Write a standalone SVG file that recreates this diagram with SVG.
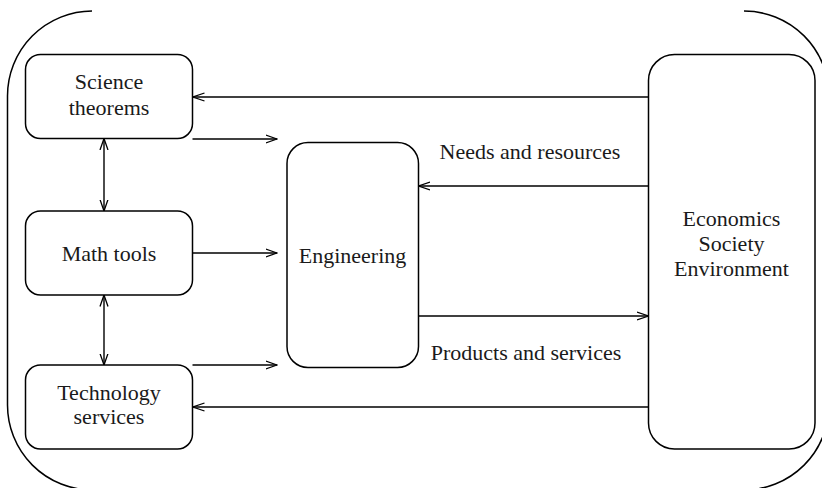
<svg xmlns="http://www.w3.org/2000/svg" width="822" height="488" viewBox="0 0 822 488">
  <defs>
    <style>
      .box { fill: #ffffff; stroke: #000000; stroke-width: 1.5; }
      .frame { fill: none; stroke: #000000; stroke-width: 1.5; }
      .link { fill: none; stroke: #000000; stroke-width: 1.4; }
      .label { font-family: "Liberation Serif", "DejaVu Serif", serif; font-size: 22px; fill: #1a1a1a; text-anchor: middle; }
    </style>
    <marker id="head" viewBox="0 0 12 10" markerWidth="12" markerHeight="10" refX="11.5" refY="5" orient="auto-start-reverse" markerUnits="userSpaceOnUse">
      <path d="M0,1 L11.5,5 L0,9" fill="none" stroke="#000000" stroke-width="1.3"/>
    </marker>
  </defs>

  <rect width="822" height="488" fill="#ffffff"/>

  <!-- outer brackets -->
  <g id="frame">
    <path class="frame" d="M92,11 A85,85 0 0 0 7.5,96 L7.5,405 A85,85 0 0 0 92.5,490"/>
    <path class="frame" d="M744,11 A85,85 0 0 1 829,96 L829,405 A85,85 0 0 1 744,490"/>
  </g>

  <!-- connectors -->
  <g id="connectors">
    <line class="link" x1="648.5" y1="97" x2="193" y2="97" marker-end="url(#head)"/>
    <line class="link" x1="192.5" y1="139" x2="277" y2="139" marker-end="url(#head)"/>
    <line class="link" x1="192.5" y1="253" x2="277" y2="253" marker-end="url(#head)"/>
    <line class="link" x1="192.5" y1="365" x2="277" y2="365" marker-end="url(#head)"/>
    <line class="link" x1="648.5" y1="186" x2="418.5" y2="186" marker-end="url(#head)"/>
    <line class="link" x1="418.5" y1="316" x2="648.5" y2="316" marker-end="url(#head)"/>
    <line class="link" x1="648.5" y1="407" x2="193" y2="407" marker-end="url(#head)"/>
    <line class="link" x1="104" y1="138.5" x2="104" y2="211" marker-start="url(#head)" marker-end="url(#head)"/>
    <line class="link" x1="104" y1="295" x2="104" y2="365" marker-start="url(#head)" marker-end="url(#head)"/>
  </g>

  <g id="science">
    <rect class="box" x="25.5" y="54.5" width="167" height="84" rx="15"/>
    <text class="label" x="109" y="89">Science</text>
    <text class="label" x="109" y="115">theorems</text>
  </g>

  <g id="math">
    <rect class="box" x="25.5" y="211" width="167" height="84" rx="15"/>
    <text class="label" x="109" y="260.5">Math tools</text>
  </g>

  <g id="technology">
    <rect class="box" x="25.5" y="365" width="167" height="84" rx="15"/>
    <text class="label" x="109" y="400">Technology</text>
    <text class="label" x="109" y="424">services</text>
  </g>

  <g id="engineering">
    <rect class="box" x="287" y="142.5" width="131.5" height="225" rx="21"/>
    <text class="label" x="352.5" y="263">Engineering</text>
  </g>

  <g id="environment">
    <rect class="box" x="648.5" y="54.5" width="166.5" height="394.5" rx="26"/>
    <text class="label" x="731.5" y="226">Economics</text>
    <text class="label" x="731.5" y="251">Society</text>
    <text class="label" x="731.5" y="276">Environment</text>
  </g>

  <g id="edge-labels">
    <text class="label" x="530" y="159">Needs and resources</text>
    <text class="label" x="526" y="360">Products and services</text>
  </g>
</svg>
